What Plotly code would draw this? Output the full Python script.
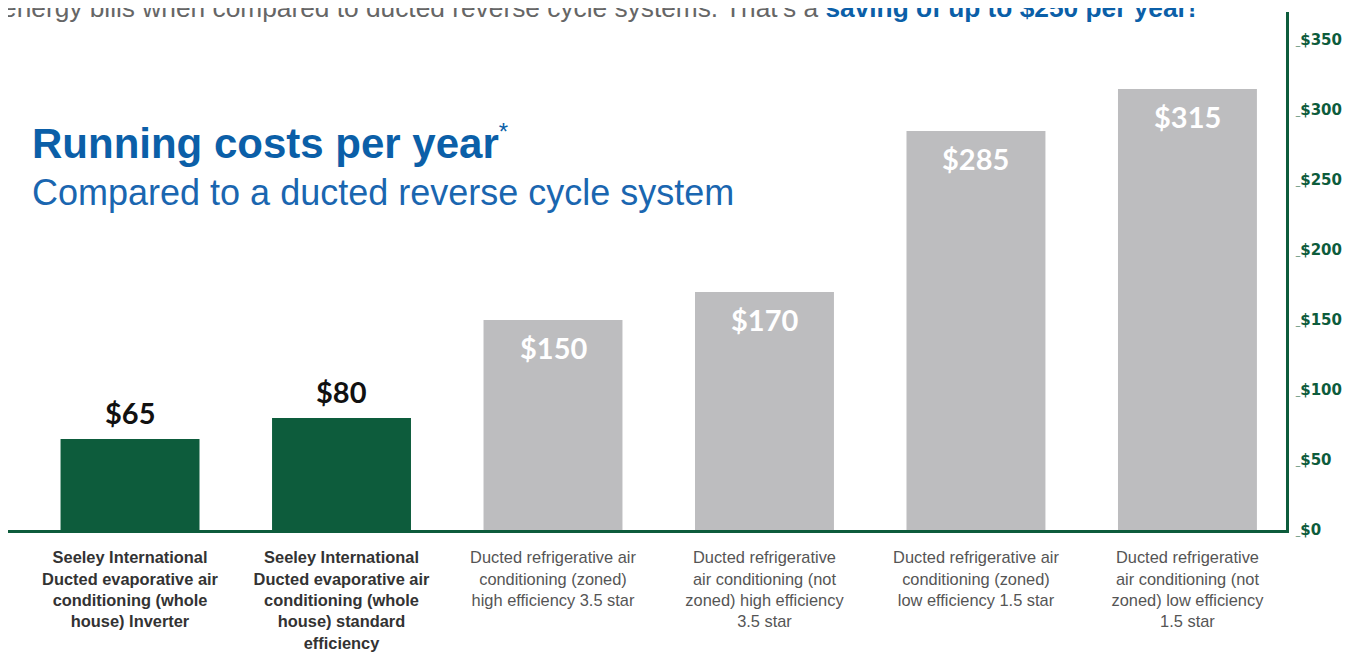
import plotly.graph_objects as go

# ---- data ----
categories = [
    "Seeley International Ducted evaporative air conditioning (whole house) Inverter",
    "Seeley International Ducted evaporative air conditioning (whole house) standard efficiency",
    "Ducted refrigerative air conditioning (zoned) high efficiency 3.5 star",
    "Ducted refrigerative air conditioning (not zoned) high efficiency 3.5 star",
    "Ducted refrigerative air conditioning (zoned) low efficiency 1.5 star",
    "Ducted refrigerative air conditioning (not zoned) low efficiency 1.5 star",
]
tick_labels = [
    "<b>Seeley International<br>Ducted evaporative air<br>conditioning (whole<br>house) Inverter</b>",
    "<b>Seeley International<br>Ducted evaporative air<br>conditioning (whole<br>house) standard<br>efficiency</b>",
    "Ducted refrigerative air<br>conditioning (zoned)<br>high efficiency 3.5 star",
    "Ducted refrigerative<br>air conditioning (not<br>zoned) high efficiency<br>3.5 star",
    "Ducted refrigerative air<br>conditioning (zoned)<br>low efficiency 1.5 star",
    "Ducted refrigerative<br>air conditioning (not<br>zoned) low efficiency<br>1.5 star",
]
is_seeley = [True, True, False, False, False, False]
running_costs = [65, 80, 150, 170, 285, 315]
y_tick_values = [0, 50, 100, 150, 200, 250, 300, 350]

GREEN = "#0d5c3c"
GREY = "#bdbdbf"
BLUE = "#0b5fa8"

x_idx = list(range(len(categories)))
bar_colors = [GREEN if s else GREY for s in is_seeley]

fig = go.Figure()
fig.add_trace(go.Bar(
    x=x_idx, y=running_costs, width=0.657,
    marker=dict(color=bar_colors, line=dict(width=0)),
    hovertext=categories, hoverinfo="text+y",
))

tick_text_x = [
    (f"<span style='color:#333333'>{t}</span>" if s else f"<span style='color:#555555'>{t}</span>")
    for t, s in zip(tick_labels, is_seeley)
]
tick_text_y = [f"<span style='font-size:9px;color:#6f9a84'>_</span>${v}" for v in y_tick_values]

fig.update_xaxes(
    range=[-0.577, 5.466], tickmode="array", tickvals=x_idx, ticktext=tick_text_x,
    tickfont=dict(family="Liberation Sans, Arial, sans-serif", size=16.4, color="#555555"),
    showgrid=False, zeroline=False, showline=True, linecolor=GREEN, linewidth=2.5,
    ticks="", ticklabelstandoff=11, automargin=False,
)
fig.update_yaxes(
    range=[0, 370], side="right", tickmode="array", tickvals=y_tick_values, ticktext=tick_text_y,
    tickfont=dict(family="DejaVu Sans, sans-serif", size=15, color=GREEN, weight="bold"),
    showgrid=False, zeroline=False, showline=True, linecolor=GREEN, linewidth=2.5,
    ticks="", ticklabelstandoff=4, automargin=False,
)

# value labels
for i, (v, s) in enumerate(zip(running_costs, is_seeley)):
    fig.add_annotation(
        x=i, y=v, xref="x", yref="y", text=f"${v}", showarrow=False,
        yshift=27 if s else -27, yanchor="middle",
        font=dict(family="Lato, sans-serif", size=29, color="#111111" if s else "#ffffff",
                  weight="bold"),
    )

# titles
fig.add_annotation(
    xref="paper", yref="paper", x=-0.0063, y=1.0077, xanchor="left", yanchor="middle",
    showarrow=False,
    text="energy bills when compared to ducted reverse cycle systems. That\u2019s a "
         f"<b><span style='color:{BLUE}'>saving of up to $250 per year!</span></b>",
    font=dict(family="Liberation Sans, Arial, sans-serif", size=26.3, color="#666666"),
)
fig.add_annotation(
    xref="paper", yref="paper", x=0.0172, y=0.749, xanchor="left", yanchor="middle",
    showarrow=False,
    text="<b>Running costs per year</b><sup><span style='font-size:24px'>*</span></sup>",
    font=dict(family="Liberation Sans, Arial, sans-serif", size=42, color=BLUE),
)
fig.add_annotation(
    xref="paper", yref="paper", x=0.0172, y=0.6525, xanchor="left", yanchor="middle",
    showarrow=False, text="Compared to a ducted reverse cycle system",
    font=dict(family="Liberation Sans, Arial, sans-serif", size=36, color="#1a66b0"),
)

fig.update_layout(
    width=1354, height=644,
    margin=dict(l=0, r=76, t=4, b=122, autoexpand=False),
    paper_bgcolor="white", plot_bgcolor="white",
    showlegend=False, bargap=0.34,
)

fig.write_html("out.html")
